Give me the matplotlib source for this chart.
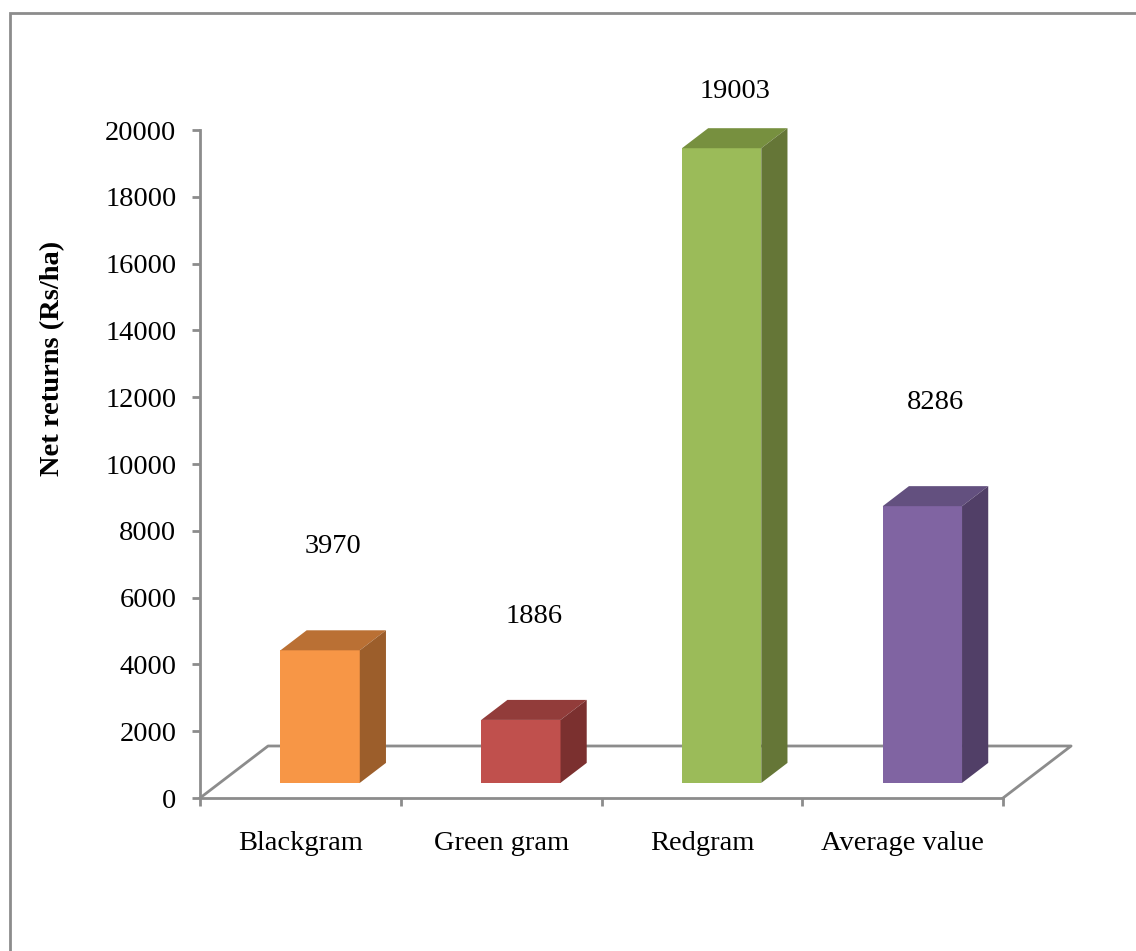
import matplotlib
matplotlib.use("Agg")
import matplotlib.pyplot as plt
from matplotlib.patches import Polygon, Rectangle

categories = ["Blackgram", "Green gram", "Redgram", "Average value"]
net_returns = [3970, 1886, 19003, 8286]
value_labels = ["3970", "1886", "19003", "8286"]

front_colors = ["#F79646", "#C0504D", "#9BBB59", "#8064A2"]
top_colors = ["#BA7034", "#923C3A", "#77903F", "#63507F"]
side_colors = ["#9C5E2B", "#7B302F", "#657637", "#513F67"]

plt.rcParams["font.family"] = ["Liberation Serif", "DejaVu Serif"]

fig = plt.figure(figsize=(11.36, 9.51), dpi=100)
ax = fig.add_axes([200 / 1136, 1 - 798 / 951, 903.4 / 1136, 668 / 951])

grey = "#8C8C8C"
# floor depth (category units, value units) and bar depth fractions
DX, DY = 0.339, 1557
f0, f1 = 0.29, 0.675
w = 0.395
n = len(categories)

# floor
ax.plot([0, DX, n + DX, n], [0, DY, DY, 0], color=grey, lw=2, clip_on=False,
        zorder=1)

for i, v in enumerate(net_returns):
    cx = i + 0.5
    x0 = cx - w / 2 + f0 * DX
    x1 = cx + w / 2 + f0 * DX
    y0 = f0 * DY
    y1 = y0 + v
    ddx = (f1 - f0) * DX
    ddy = (f1 - f0) * DY
    ax.add_patch(Polygon([(x0, y0), (x1, y0), (x1, y1), (x0, y1)],
                         closed=True, fc=front_colors[i], ec="none",
                         zorder=3, clip_on=False))
    ax.add_patch(Polygon([(x0, y1), (x1, y1), (x1 + ddx, y1 + ddy),
                          (x0 + ddx, y1 + ddy)],
                         closed=True, fc=top_colors[i], ec="none",
                         zorder=3, clip_on=False))
    ax.add_patch(Polygon([(x1, y0), (x1 + ddx, y0 + ddy),
                          (x1 + ddx, y1 + ddy), (x1, y1)],
                         closed=True, fc=side_colors[i], ec="none",
                         zorder=3, clip_on=False))
    ty = min(v + 3550, 21150)
    ax.text(cx + (f0 + f1) / 2 * DX, ty, value_labels[i], ha="center",
            va="center", fontsize=20.5, clip_on=False)

ax.set_xlim(0, 4.5)
ax.set_ylim(0, 20000)
ax.set_yticks(range(0, 20001, 2000))
ax.set_xticks(range(0, n + 1))
ax.set_xticklabels([])
for i, c in enumerate(categories):
    ax.text(i + 0.5, -1350, c, ha="center", va="center", fontsize=20.5,
            clip_on=False)

for s in ["top", "right"]:
    ax.spines[s].set_visible(False)
ax.spines["left"].set_bounds(0, 20000)
ax.spines["bottom"].set_bounds(0, n)
for s in ["left", "bottom"]:
    ax.spines[s].set_color(grey)
    ax.spines[s].set_linewidth(2)
    ax.spines[s].set_zorder(2)
ax.tick_params(axis="both", colors=grey, width=2, length=6, labelsize=20.5,
               labelcolor="black")
ax.tick_params(axis="y", pad=11)
ax.patch.set_visible(False)

ax.set_ylabel("Net returns (Rs/ha)", fontsize=20.5, fontweight="bold")
ax.yaxis.set_label_coords(-135 / 903.4, 440 / 668)

# chart border
fig.patches.append(Rectangle((10 / 1136, -0.1), 1.2, 1 - 13 / 951 + 0.1,
                             transform=fig.transFigure, fill=False,
                             ec="#8C8C8C", lw=2))

plt.savefig("out.png", dpi=100)
